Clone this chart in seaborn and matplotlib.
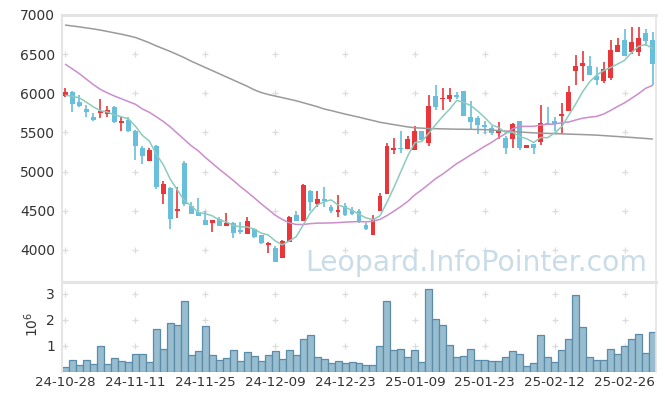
import numpy as np
import matplotlib
matplotlib.use('Agg')
import matplotlib.pyplot as plt
import seaborn as sns

# ---------------- data ----------------
opens = [5963, 6022, 5886, 5805, 5702, 5745, 5732, 5826, 5617, 5655,
         5515, 5306, 5131, 5331, 4713, 4789, 4498, 5109, 4563, 4478,
         4384, 4350, 4397, 4307, 4341, 4256, 4205, 4264, 4190, 4068,
         4021, 3893, 4107, 4448, 4363, 4755, 4584, 4648, 4542, 4482,
         4555, 4512, 4503, 4320, 4192, 4499, 4717, 5280, 5297, 5293,
         5280, 5515, 5365, 5963, 5929, 5933, 5984, 6027, 5698, 5685,
         5600, 5557, 5489, 5429, 5421, 5651, 5301, 5357, 5378, 5621,
         5651, 5711, 5771, 6283, 6347, 6355, 6219, 6155, 6197, 6530,
         6675, 6530, 6530, 6765, 6675]
highs = [6069, 6035, 5984, 5852, 5749, 5929, 5843, 5843, 5698, 5698,
         5536, 5331, 5301, 5344, 4875, 4798, 4802, 5131, 4606, 4661,
         4491, 4384, 4414, 4469, 4354, 4354, 4414, 4277, 4192, 4107,
         4051, 4128, 4427, 4503, 4845, 4768, 4755, 4802, 4576, 4704,
         4597, 4546, 4520, 4350, 4448, 4725, 5365, 5429, 5523, 5459,
         5579, 5515, 5984, 6103, 6069, 6069, 6020, 6027, 5907, 5707,
         5643, 5580, 5634, 5451, 5621, 5651, 5344, 5357, 5848, 5822,
         5694, 5877, 6091, 6487, 6539, 6475, 6334, 6398, 6675, 6701,
         6816, 6846, 6850, 6816, 6786]
lows = [5954, 5758, 5826, 5698, 5643, 5685, 5698, 5621, 5515, 5502,
        5152, 5101, 5131, 4776, 4589, 4264, 4405, 4555, 4465, 4427,
        4320, 4235, 4311, 4307, 4158, 4205, 4205, 4158, 4072, 3966,
        3851, 3893, 4107, 4363, 4363, 4491, 4546, 4546, 4469, 4418,
        4435, 4448, 4350, 4256, 4192, 4499, 4717, 5229, 5237, 5293,
        5280, 5390, 5323, 5792, 5792, 5886, 5930, 5707, 5536, 5481,
        5481, 5468, 5416, 5225, 5301, 5280, 5301, 5229, 5344, 5600,
        5523, 5485, 5771, 6112, 6163, 6240, 6112, 6133, 6176, 6530,
        6475, 6505, 6475, 6603, 6112]
closes = [6014, 5869, 5835, 5758, 5655, 5770, 5792, 5638, 5643, 5515,
          5323, 5195, 5271, 4802, 4845, 4397, 4519, 4584, 4465, 4427,
          4320, 4384, 4311, 4341, 4213, 4226, 4371, 4171, 4094, 4094,
          3851, 4115, 4418, 4363, 4832, 4606, 4648, 4619, 4491, 4512,
          4448, 4461, 4363, 4264, 4397, 4691, 5331, 5306, 5284, 5416,
          5515, 5408, 5843, 5826, 5941, 5984, 5954, 5707, 5630, 5591,
          5566, 5489, 5536, 5301, 5613, 5301, 5344, 5301, 5621, 5600,
          5608, 5737, 6018, 6347, 6389, 6240, 6168, 6304, 6547, 6611,
          6475, 6658, 6709, 6667, 6368]
volume_m = [0.18, 0.46, 0.27, 0.46, 0.31, 0.99, 0.31, 0.53, 0.42, 0.38,
            0.68, 0.68, 0.38, 1.65, 0.88, 1.88, 1.81, 2.73, 0.65, 0.81,
            1.76, 0.65, 0.46, 0.54, 0.85, 0.42, 0.77, 0.62, 0.42, 0.65,
            0.81, 0.50, 0.85, 0.65, 1.27, 1.41, 0.58, 0.50, 0.35, 0.41,
            0.35, 0.38, 0.33, 0.27, 0.27, 0.99, 2.72, 0.85, 0.87, 0.56,
            0.85, 0.38, 3.18, 2.03, 1.79, 1.03, 0.56, 0.60, 0.87, 0.46,
            0.46, 0.41, 0.41, 0.56, 0.81, 0.68, 0.22, 0.33, 1.41, 0.56,
            0.38, 0.85, 1.26, 2.95, 1.72, 0.56, 0.46, 0.46, 0.87, 0.68,
            0.99, 1.26, 1.45, 0.72, 1.53]
ma5 = [5975, 5963, 5941, 5886, 5826, 5777, 5762, 5723, 5700, 5672,
       5582, 5463, 5389, 5221, 5087, 4902, 4767, 4629, 4562, 4478,
       4463, 4436, 4381, 4357, 4314, 4295, 4292, 4264, 4215, 4191,
       4116, 4065, 4114, 4168, 4316, 4467, 4573, 4614, 4639, 4575,
       4544, 4506, 4455, 4410, 4387, 4435, 4609, 4798, 5002, 5206,
       5370, 5386, 5493, 5602, 5707, 5800, 5910, 5882, 5843, 5773,
       5690, 5597, 5562, 5497, 5501, 5448, 5419, 5372, 5436, 5433,
       5495, 5573, 5717, 5862, 6020, 6146, 6232, 6290, 6330, 6374,
       6421, 6519, 6600, 6624, 6575]
ma20 = [6370, 6310, 6250, 6180, 6110, 6050, 6005, 5965, 5930, 5895,
        5860, 5800, 5757, 5700, 5640, 5570, 5490, 5410, 5330, 5266,
        5181, 5107, 5031, 4960, 4888, 4811, 4740, 4666, 4589, 4518,
        4444, 4390, 4347, 4325, 4325, 4335, 4342, 4343, 4345, 4349,
        4355, 4359, 4362, 4358, 4367, 4390, 4438, 4495, 4555, 4621,
        4704, 4769, 4840, 4913, 4969, 5037, 5103, 5157, 5214, 5268,
        5324, 5375, 5434, 5486, 5547, 5577, 5578, 5578, 5594, 5604,
        5608, 5625, 5633, 5659, 5682, 5695, 5705, 5735, 5781, 5832,
        5878, 5936, 5995, 6063, 6101]
ma_long = [6871, 6860, 6848, 6835, 6822, 6807, 6790, 6772, 6755, 6735,
           6713, 6680, 6645, 6605, 6570, 6534, 6495, 6455, 6410, 6370,
           6330, 6290, 6250, 6210, 6170, 6130, 6090, 6045, 6010, 5985,
           5965, 5945, 5925, 5905, 5880, 5855, 5830, 5800, 5780, 5757,
           5735, 5715, 5695, 5673, 5652, 5630, 5615, 5600, 5585, 5570,
           5560, 5555, 5550, 5548, 5546, 5544, 5542, 5541, 5540, 5538,
           5536, 5530, 5524, 5518, 5512, 5506, 5500, 5495, 5492, 5488,
           5485, 5482, 5479, 5476, 5473, 5470, 5466, 5460, 5454, 5448,
           5442, 5436, 5430, 5423, 5416]
tick_labels = ['24-10-28', '24-11-11', '24-11-25', '24-12-09', '24-12-23',
               '25-01-09', '25-01-23', '25-02-12', '25-02-26']
price_ticks = [4000, 4500, 5000, 5500, 6000, 6500, 7000]
vol_ticks = [1, 2, 3]

# ---------------- style ----------------
RED = '#e8363a'
BLUE = '#68bfdc'
C_MA5 = '#8ccbbe'
C_MA20 = '#cb8dcb'
C_LONG = '#9a9a9a'
FRAME = '#e4e4e4'
TXT = '#333333'

sns.set_theme(style='white')
plt.rcParams['font.family'] = ['DejaVu Sans']

W, H = 665, 400
fig = plt.figure(figsize=(W / 100, H / 100), dpi=100)
L, R = 62, 656
ax = fig.add_axes([L / W, 1 - 281 / H, (R - L) / W, (281 - 15) / H])
axv = fig.add_axes([L / W, 1 - 372 / H, (R - L) / W, (372 - 282) / H])

n = len(closes)
idx = np.arange(n)
o = np.array(opens, dtype=float)
c = np.array(closes, dtype=float)
colors = np.where(c >= o, RED, BLUE)

# watermark
ax.text((305 - L) / (R - L), (281 - 271) / (281 - 15), 'Leopard.InfoPointer.com',
        transform=ax.transAxes, fontsize=20.3, color='#c9dce7',
        ha='left', va='baseline', zorder=1)

# grid crosses
gx = np.arange(0, n, 10)
for yv in price_ticks[:-1]:
    ax.plot(gx, [yv] * len(gx), linestyle='none', marker='+', ms=5,
            mew=0.9, color='#dcdcdc', zorder=0.5)

# candles
ax.vlines(idx, lows, highs, colors=colors, linewidth=1.2, zorder=2)
body_bottom = np.minimum(o, c)
body_h = np.maximum(np.abs(c - o), 14)
ax.bar(idx, body_h, bottom=body_bottom, width=0.7, color=colors,
       linewidth=0, zorder=3)

# moving averages
sns.lineplot(x=idx, y=ma_long, ax=ax, color=C_LONG, linewidth=1.1, zorder=4)
sns.lineplot(x=idx, y=ma20, ax=ax, color=C_MA20, linewidth=1.1, zorder=4)
sns.lineplot(x=idx, y=ma5, ax=ax, color=C_MA5, linewidth=1.1, zorder=4)

ax.set_xlim(-0.5, n - 0.5)
ax.set_ylim(3603, 7000)
ax.set_yticks(price_ticks)
ax.set_yticklabels([str(t) for t in price_ticks])
ax.set_xticks([])
ax.set_xlabel('')
ax.set_ylabel('')

# volume
sns.barplot(x=idx, y=volume_m, ax=axv, color='#97bdcf', edgecolor='#5a8ba8',
            linewidth=0.9, width=1.0, saturation=1, zorder=2)
for yv in vol_ticks:
    axv.plot(gx, [yv] * len(gx), linestyle='none', marker='+', ms=5,
             mew=0.9, color='#dcdcdc', zorder=0.5)
axv.set_xlim(-0.5, n - 0.5)
axv.set_ylim(0, 3.46)
axv.set_yticks(vol_ticks)
axv.set_yticklabels([str(t) for t in vol_ticks])
axv.set_xticks(gx)
axv.set_xticklabels(tick_labels)
axv.set_xlabel('')
axv.set_ylabel('')

for a in (ax, axv):
    a.tick_params(axis='both', length=0, labelsize=10, colors=TXT)
    a.tick_params(axis='y', pad=5)
    a.tick_params(axis='x', pad=3)
    a.set_facecolor('white')
    a.spines['bottom'].set_visible(False)
    a.spines['top'].set_color(FRAME)
    a.spines['top'].set_linewidth(2.2)
    a.spines['left'].set_color(FRAME)
    a.spines['left'].set_linewidth(1.5)
    a.spines['right'].set_color(FRAME)
    a.spines['right'].set_linewidth(1.2)
    a.grid(False)
    if a.get_legend() is not None:
        a.get_legend().remove()

axv.tick_params(axis='x', labelsize=9.6)

fig.text(32 / W, 1 - 324 / H, r'$10^6$', rotation=90, ha='center', va='center',
         fontsize=10, color=TXT)

fig.savefig('out.png', dpi=100, facecolor='white')
